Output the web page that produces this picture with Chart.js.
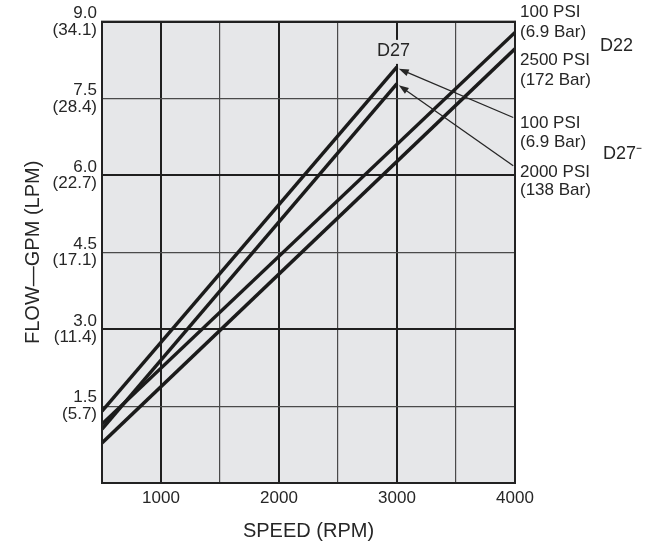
<!DOCTYPE html>
<html>
<head>
<meta charset="utf-8">
<script src="https://cdn.jsdelivr.net/npm/chart.js@4.4.1/dist/chart.umd.min.js"></script>
<style>
  html, body { margin: 0; padding: 0; background: #fff; }
  #wrap { width: 652px; height: 543px; }
</style>
</head>
<body>
<div id="wrap"><canvas id="chart" width="652" height="543"></canvas></div>
<script>
// ── Data ────────────────────────────────────────────────────────────────────
const speedD27 = [500, 3000];
const flowD27_100psi  = [1.40, 8.12];
const flowD27_2000psi = [1.05, 7.79];

const speedD22 = [500, 4000];
const flowD22_100psi  = [1.15, 8.79];
const flowD22_2500psi = [0.78, 8.47];

const xTickLabels = [1000, 2000, 3000, 4000];
const yTickGpm = ['1.5', '3.0', '4.5', '6.0', '7.5', '9.0'];
const yTickLpm = ['(5.7)', '(11.4)', '(17.1)', '(22.7)', '(28.4)', '(34.1)'];

// ── Annotations ─────────────────────────────────────────────────────────────
const rightNotes = [
  { text: '100 PSI',   y: 9.18, dx: 5 },
  { text: '(6.9 Bar)', y: 8.79, dx: 5 },
  { text: 'D22',       y: 8.53, dx: 85, size: 18 },
  { text: '2500 PSI',  y: 8.24, dx: 5 },
  { text: '(172 Bar)', y: 7.85, dx: 5 },
  { text: '100 PSI',   y: 7.01, dx: 5 },
  { text: '(6.9 Bar)', y: 6.64, dx: 5 },
  { text: 'D27\u207B', y: 6.41, dx: 88, size: 18 },
  { text: '2000 PSI',  y: 6.06, dx: 5 },
  { text: '(138 Bar)', y: 5.71, dx: 5 }
];
const arrows = [
  { from: { x: 3985, y: 7.13 }, to: { x: 3015, y: 8.08 } },
  { from: { x: 3985, y: 6.19 }, to: { x: 3015, y: 7.76 } }
];
const topNote = { text: 'D27', x: 2970, y: 8.43 };

const FONT = '"Liberation Sans", Arial, Helvetica, sans-serif';
const INK  = '#262626';
const PLOT_BG = '#e6e7e9';
const toXY = (xs, ys) => xs.map((x, i) => ({ x, y: ys[i] }));

const lineStyle = {
  borderColor: '#1b1b1b',
  borderWidth: 3.5,
  pointRadius: 0,
  tension: 0,
  fill: false
};

// plot background, frame, arrows and free text
const decorPlugin = {
  id: 'decor',
  beforeDraw(chart) {
    const { ctx, chartArea: a } = chart;
    ctx.save();
    ctx.fillStyle = PLOT_BG;
    ctx.fillRect(a.left, a.top, a.right - a.left, a.bottom - a.top);
    ctx.restore();
  },
  beforeDatasetsDraw(chart) {
    // knock the grid line out behind the D27 peak label
    const { ctx, scales: { x, y } } = chart;
    ctx.save();
    ctx.font = '18px ' + FONT;
    const w = ctx.measureText(topNote.text).width + 6;
    const cx = x.getPixelForValue(topNote.x), cy = y.getPixelForValue(topNote.y);
    ctx.fillStyle = PLOT_BG;
    ctx.fillRect(cx - w / 2, cy - 11, w, 24);
    ctx.restore();
  },
  afterDatasetsDraw(chart) {
    const { ctx, chartArea: a, scales: { x, y } } = chart;
    ctx.save();
    ctx.strokeStyle = '#222';
    ctx.lineWidth = 2;
    ctx.strokeRect(a.left, a.top, a.right - a.left, a.bottom - a.top);

    // arrows
    ctx.strokeStyle = INK;
    ctx.fillStyle = INK;
    ctx.lineWidth = 1.3;
    for (const ar of arrows) {
      const x1 = x.getPixelForValue(ar.from.x), y1 = y.getPixelForValue(ar.from.y);
      const x2 = x.getPixelForValue(ar.to.x),   y2 = y.getPixelForValue(ar.to.y);
      const ang = Math.atan2(y2 - y1, x2 - x1);
      ctx.beginPath();
      ctx.moveTo(x1, y1);
      ctx.lineTo(x2 - 6 * Math.cos(ang), y2 - 6 * Math.sin(ang));
      ctx.stroke();
      const len = 10, half = 3.5;
      ctx.beginPath();
      ctx.moveTo(x2, y2);
      ctx.lineTo(x2 - len * Math.cos(ang) + half * Math.sin(ang),
                 y2 - len * Math.sin(ang) - half * Math.cos(ang));
      ctx.lineTo(x2 - len * Math.cos(ang) - half * Math.sin(ang),
                 y2 - len * Math.sin(ang) + half * Math.cos(ang));
      ctx.closePath();
      ctx.fill();
    }

    // D27 label above the peak
    ctx.fillStyle = INK;
    ctx.textBaseline = 'middle';
    ctx.textAlign = 'center';
    ctx.font = '18px ' + FONT;
    ctx.fillText(topNote.text, x.getPixelForValue(topNote.x), y.getPixelForValue(topNote.y));

    // pressure notes on the right
    ctx.textAlign = 'left';
    for (const n of rightNotes) {
      ctx.font = (n.size || 17) + 'px ' + FONT;
      ctx.fillText(n.text, a.right + n.dx, y.getPixelForValue(n.y));
    }
    ctx.restore();
  }
};

const isMajorX = v => v % 1000 === 0;
const isMajorY = v => Math.abs(v % 3) < 1e-6;

new Chart(document.getElementById('chart'), {
  type: 'line',
  data: {
    datasets: [
      { label: 'D27 100 PSI',  data: toXY(speedD27, flowD27_100psi),  ...lineStyle },
      { label: 'D27 2000 PSI', data: toXY(speedD27, flowD27_2000psi), ...lineStyle },
      { label: 'D22 100 PSI',  data: toXY(speedD22, flowD22_100psi),  ...lineStyle },
      { label: 'D22 2500 PSI', data: toXY(speedD22, flowD22_2500psi), ...lineStyle }
    ]
  },
  options: {
    responsive: false,
    animation: false,
    layout: { padding: { top: 21, right: 137, bottom: 0, left: 0 } },
    plugins: { legend: { display: false }, tooltip: { enabled: false } },
    scales: {
      x: {
        type: 'linear',
        min: 500,
        max: 4000,
        afterFit: s => { s.height = 60; },
        ticks: {
          stepSize: 500,
          autoSkip: false,
          maxRotation: 0,
          padding: 5,
          color: INK,
          font: { family: FONT, size: 17 },
          callback: v => xTickLabels.includes(v) ? String(v) : ''
        },
        grid: {
          drawTicks: false,
          color: c => isMajorX(c.tick.value) ? '#1f1f1f' : '#4a4a4a',
          lineWidth: c => isMajorX(c.tick.value) ? 2 : 1.2
        },
        border: { display: true, color: '#222', width: 2 },
        title: {
          display: true,
          text: 'SPEED (RPM)',
          color: INK,
          font: { family: FONT, size: 20 },
          padding: { top: 0, bottom: 0 }
        }
      },
      y: {
        min: 0,
        max: 9,
        afterFit: s => { s.width = 102; },
        ticks: {
          stepSize: 1.5,
          autoSkip: false,
          padding: 5,
          color: INK,
          font: { family: FONT, size: 17, lineHeight: 0.98 },
          callback: v => {
            const i = Math.round(v / 1.5) - 1;
            return i >= 0 ? [yTickGpm[i], yTickLpm[i]] : '';
          }
        },
        grid: {
          drawTicks: false,
          color: c => isMajorY(c.tick.value) ? '#1f1f1f' : '#4a4a4a',
          lineWidth: c => isMajorY(c.tick.value) ? 2 : 1.2
        },
        border: { display: true, color: '#222', width: 2 },
        title: {
          display: true,
          text: 'FLOW\u2014GPM (LPM)',
          color: INK,
          font: { family: FONT, size: 20 },
          padding: { top: 21, bottom: 0 }
        }
      }
    }
  },
  plugins: [decorPlugin]
});
</script>
</body>
</html>
